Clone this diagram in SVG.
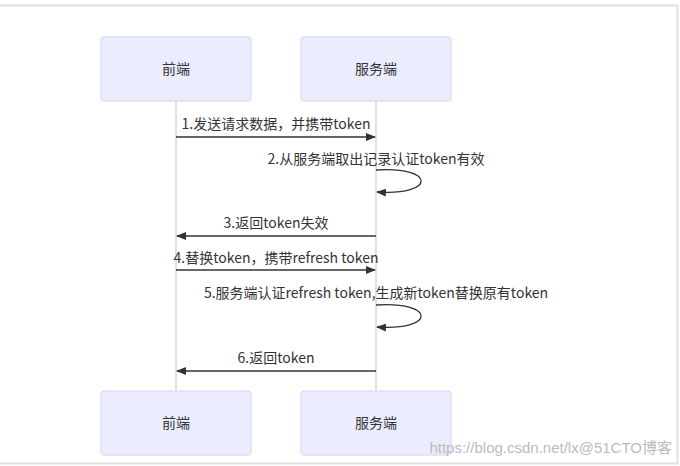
<svg xmlns="http://www.w3.org/2000/svg" width="680" height="466" viewBox="0 0 680 466">
<style>
.box{fill:#ececff;stroke:#d3d3f7;stroke-width:1}
.t{font-family:"Noto Sans CJK SC","Microsoft YaHei",sans-serif;font-size:14px;fill:#333;text-anchor:middle}
.life{stroke:#d9d9d9;stroke-width:1.5}
.msg{stroke:#333;stroke-width:1.3;fill:none}
</style>
<defs><marker id="a" markerWidth="10" markerHeight="8" refX="9" refY="4" orient="auto" markerUnits="userSpaceOnUse"><path d="M0,0L10,4L0,8z" fill="#333"/></marker></defs>
<rect x="0" y="0" width="680" height="466" fill="#fff"/>
<path d="M0,5.5H677.5V463.5H0" fill="none" stroke="#e0e0e0" stroke-width="2"/>
<g id="lifelines"><line class="life" x1="176" y1="101" x2="176" y2="391"/><line class="life" x1="376" y1="101" x2="376" y2="391"/></g>
<g id="front-top"><rect class="box" x="101" y="37" width="150" height="64" rx="3"/><text class="t" x="176" y="74">前端</text></g>
<g id="server-top"><rect class="box" x="301" y="37" width="150" height="64" rx="3"/><text class="t" x="376" y="74">服务端</text></g>
<g id="front-bottom"><rect class="box" x="101" y="391" width="150" height="64" rx="3"/><text class="t" x="176" y="428">前端</text></g>
<g id="server-bottom"><rect class="box" x="301" y="391" width="150" height="64" rx="3"/><text class="t" x="376" y="428">服务端</text></g>
<g id="connectors">
<line class="msg" x1="176" y1="137" x2="375" y2="137" marker-end="url(#a)"/>
<path class="msg" d="M376,170C436,166 436,196 377,192" marker-end="url(#a)"/>
<line class="msg" x1="376" y1="236" x2="177" y2="236" marker-end="url(#a)"/>
<line class="msg" x1="176" y1="270" x2="375" y2="270" marker-end="url(#a)"/>
<path class="msg" d="M376,305C436,301 436,331 377,327" marker-end="url(#a)"/>
<line class="msg" x1="376" y1="371" x2="177" y2="371" marker-end="url(#a)"/>
</g>
<g id="labels">
<text class="t" x="276" y="129">1.发送请求数据，并携带token</text>
<text class="t" x="376" y="164">2.从服务端取出记录认证token有效</text>
<text class="t" x="276" y="228">3.返回token失效</text>
<text class="t" x="276" y="263">4.替换token，携带refresh token</text>
<text class="t" x="376" y="298">5.服务端认证refresh token,生成新token替换原有token</text>
<text class="t" x="276" y="363">6.返回token</text>
</g>
<text x="672" y="453" style="font-family:'Liberation Sans','Noto Sans CJK SC',sans-serif;font-size:15px;fill:#bbb;text-anchor:end">https://blog.csdn.net/lx@51CTO博客</text>
</svg>
